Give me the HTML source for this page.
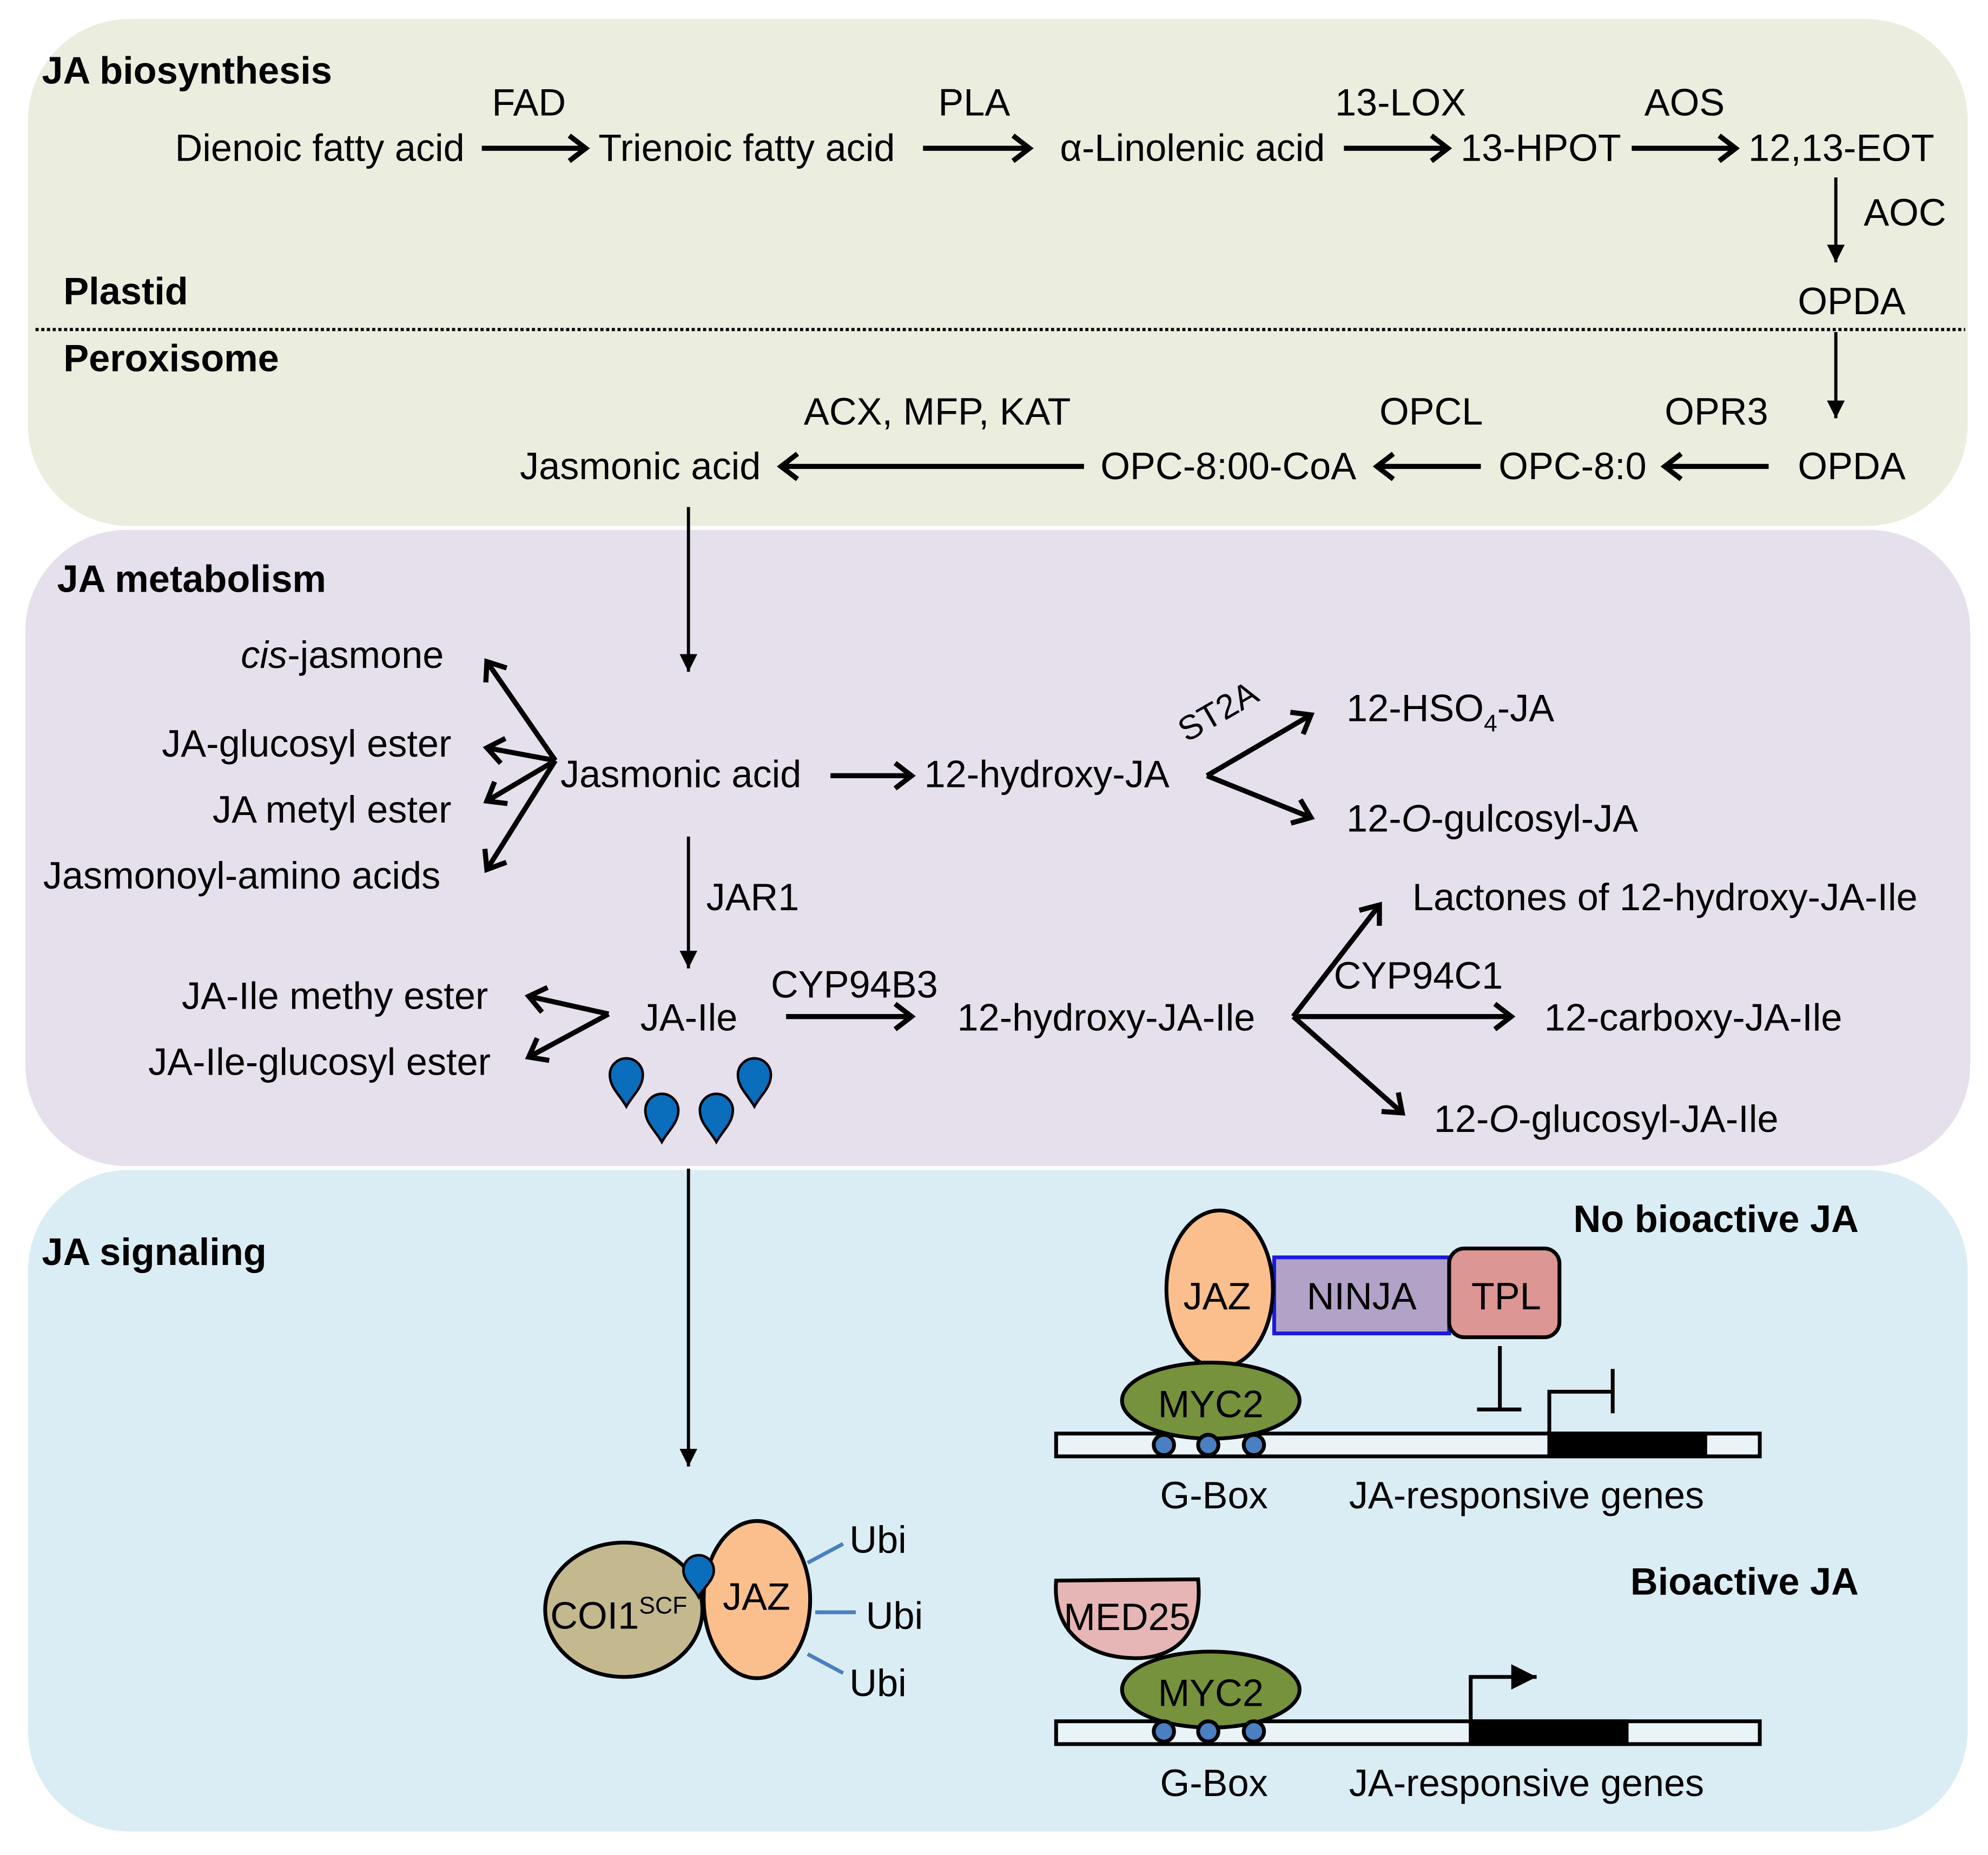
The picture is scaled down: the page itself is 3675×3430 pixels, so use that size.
<!DOCTYPE html>
<html><head><meta charset="utf-8"><style>html,body{margin:0;padding:0;background:#fff}svg{display:block}text{font-family:"Liberation Sans",Arial,sans-serif;fill:#000}</style></head><body>
<svg width="3675" height="3430" viewBox="0 0 1568 1463.5" xmlns="http://www.w3.org/2000/svg">
<defs>
<marker id="v" markerUnits="userSpaceOnUse" markerWidth="30" markerHeight="30" refX="17" refY="12" orient="auto"><path d="M4,2 L17,12 L4,22" fill="none" stroke="#000" stroke-width="4"/></marker>
<marker id="t" markerUnits="userSpaceOnUse" markerWidth="20" markerHeight="24" refX="14" refY="7" orient="auto"><path d="M0,0 L14,7 L0,14 Z" fill="#000"/></marker>
<marker id="ta" markerUnits="userSpaceOnUse" markerWidth="30" markerHeight="30" refX="20" refY="10" orient="auto"><path d="M0,0 L20,10 L0,20 Z" fill="#000"/></marker>
</defs>
<rect x="22" y="15" width="1530" height="400" rx="80" fill="#ebeedf"/>
<rect x="20" y="418" width="1534" height="502" rx="80" fill="#e6e0ec"/>
<rect x="22" y="923" width="1530" height="522" rx="80" fill="#dbedf4"/>
<g font-size="30">
<text x="33" y="66" font-weight="bold" font-size="30">JA biosynthesis</text>
<text x="388" y="91">FAD</text><text x="740" y="91">PLA</text><text x="1053" y="91">13-LOX</text><text x="1297" y="91">AOS</text>
<text x="138" y="127">Dienoic fatty acid</text>
<text x="472" y="127">Trienoic fatty acid</text>
<text x="836" y="127">α-Linolenic acid</text>
<text x="1152" y="127">13-HPOT</text>
<text x="1379" y="127">12,13-EOT</text>
<text x="1470" y="178">AOC</text>
<text x="50" y="240" font-weight="bold">Plastid</text>
<text x="1418" y="248">OPDA</text>
<text x="50" y="293" font-weight="bold">Peroxisome</text>
<text x="634" y="335">ACX, MFP, KAT</text><text x="1088" y="335">OPCL</text><text x="1313" y="335">OPR3</text>
<text x="410" y="378">Jasmonic acid</text>
<text x="868" y="378">OPC-8:00-CoA</text>
<text x="1182" y="378">OPC-8:0</text>
<text x="1418" y="378">OPDA</text>
<text x="45" y="467" font-weight="bold">JA metabolism</text>
<text x="350" y="527" text-anchor="end"><tspan font-style="italic">cis</tspan>-jasmone</text>
<text x="356" y="597" text-anchor="end">JA-glucosyl ester</text>
<text x="356" y="649" text-anchor="end">JA metyl ester</text>
<text x="34" y="701">Jasmonoyl-amino acids</text>
<text x="442" y="621">Jasmonic acid</text>
<text x="729" y="621">12-hydroxy-JA</text>
<text x="0" y="0" font-size="27" transform="translate(936,586) rotate(-30)">ST2A</text>
<text x="1062" y="569">12-HSO<tspan font-size="19" dy="8">4</tspan><tspan dy="-8">-JA</tspan></text>
<text x="1062" y="656">12-<tspan font-style="italic">O</tspan>-gulcosyl-JA</text>
<text x="557" y="718">JAR1</text>
<text x="385" y="796" text-anchor="end">JA-Ile methy ester</text>
<text x="387" y="848" text-anchor="end">JA-Ile-glucosyl ester</text>
<text x="505" y="813">JA-Ile</text>
<text x="608" y="787">CYP94B3</text>
<text x="755" y="813">12-hydroxy-JA-Ile</text>
<text x="1052" y="780">CYP94C1</text>
<text x="1114" y="718">Lactones of 12-hydroxy-JA-Ile</text>
<text x="1218" y="813">12-carboxy-JA-Ile</text>
<text x="1131" y="893">12-<tspan font-style="italic">O</tspan>-glucosyl-JA-Ile</text>
<text x="33" y="998" font-weight="bold">JA signaling</text>
<text x="1466" y="972" font-weight="bold" text-anchor="end">No bioactive JA</text>
<text x="1466" y="1258" font-weight="bold" text-anchor="end">Bioactive JA</text>
</g>
<g stroke="#000" fill="none" stroke-width="4">
<line x1="380" y1="117" x2="462" y2="117" marker-end="url(#v)"/>
<line x1="728" y1="117" x2="812" y2="117" marker-end="url(#v)"/>
<line x1="1060" y1="117" x2="1142" y2="117" marker-end="url(#v)"/>
<line x1="1287" y1="117" x2="1369" y2="117" marker-end="url(#v)"/>
<line x1="855" y1="368" x2="616" y2="368" marker-end="url(#v)"/>
<line x1="1168" y1="368" x2="1086" y2="368" marker-end="url(#v)"/>
<line x1="1395" y1="368" x2="1313" y2="368" marker-end="url(#v)"/>
<line x1="655" y1="612" x2="719" y2="612" marker-end="url(#v)"/>
<line x1="620" y1="802" x2="719" y2="802" marker-end="url(#v)"/>
<line x1="438" y1="600" x2="384" y2="522" marker-end="url(#v)"/>
<line x1="438" y1="600" x2="384" y2="590" marker-end="url(#v)"/>
<line x1="438" y1="600" x2="384" y2="632" marker-end="url(#v)"/>
<line x1="438" y1="600" x2="384" y2="686" marker-end="url(#v)"/>
<line x1="480" y1="800" x2="417" y2="786" marker-end="url(#v)"/>
<line x1="480" y1="800" x2="417" y2="834" marker-end="url(#v)"/>
<line x1="952" y1="612" x2="1034" y2="564" marker-end="url(#v)"/>
<line x1="952" y1="612" x2="1034" y2="645" marker-end="url(#v)"/>
<line x1="1020" y1="802" x2="1088" y2="714" marker-end="url(#v)"/>
<line x1="1020" y1="802" x2="1192" y2="802" marker-end="url(#v)"/>
<line x1="1020" y1="802" x2="1106" y2="878" marker-end="url(#v)"/>
</g>
<g stroke="#000" stroke-width="2.5">
<line x1="1448" y1="140" x2="1448" y2="207" marker-end="url(#t)"/>
<line x1="1448" y1="262" x2="1448" y2="330" marker-end="url(#t)"/>
<line x1="543" y1="400" x2="543" y2="530" marker-end="url(#t)"/>
<line x1="543" y1="660" x2="543" y2="764" marker-end="url(#t)"/>
<line x1="543" y1="922" x2="543" y2="1157" marker-end="url(#t)"/>
</g>
<line x1="28" y1="260" x2="1550" y2="260" stroke="#000" stroke-width="2.5" stroke-dasharray="2.5,2"/>
<g fill="#0a6ebd" stroke="#000" stroke-width="2">
<path transform="translate(494,853)" d="M0,20 C-5,11 -13,5 -13,-5 A13,13 0 0 1 13,-5 C13,5 5,11 0,20 Z"/>
<path transform="translate(522,881)" d="M0,20 C-5,11 -13,5 -13,-5 A13,13 0 0 1 13,-5 C13,5 5,11 0,20 Z"/>
<path transform="translate(565,881)" d="M0,20 C-5,11 -13,5 -13,-5 A13,13 0 0 1 13,-5 C13,5 5,11 0,20 Z"/>
<path transform="translate(595,853)" d="M0,20 C-5,11 -13,5 -13,-5 A13,13 0 0 1 13,-5 C13,5 5,11 0,20 Z"/>
</g>
<g stroke="#000" stroke-width="3">
<rect x="1005" y="992" width="138" height="60" fill="#b3a2c8" stroke="#1a1adb"/>
<rect x="1143" y="985" width="87" height="70" rx="12" fill="#dc9694"/>
<ellipse cx="962" cy="1017" rx="42" ry="62" fill="#fbbf8d"/>
<rect x="833" y="1131" width="555" height="18" fill="#eaf4f8"/>
<rect x="1222" y="1131" width="123" height="18" fill="#000"/>
<ellipse cx="955" cy="1105" rx="70" ry="30" fill="#76923c"/>
<circle cx="918" cy="1140" r="8" fill="#4a7fc1"/><circle cx="953" cy="1140" r="8" fill="#4a7fc1"/><circle cx="989" cy="1140" r="8" fill="#4a7fc1"/>
<path d="M1183,1062 V1112 M1165,1112 H1200 M1222,1131 V1098 H1272 M1272,1080 V1115" fill="none"/>
</g>
<g font-size="30">
<text x="960" y="1033" text-anchor="middle">JAZ</text>
<text x="1074" y="1033" text-anchor="middle">NINJA</text>
<text x="1188" y="1033" text-anchor="middle">TPL</text>
<text x="955" y="1118" text-anchor="middle">MYC2</text>
<text x="915" y="1190">G-Box</text><text x="1064" y="1190">JA-responsive genes</text>
</g>
<g stroke="#000" stroke-width="3">
<path d="M833,1247 L945,1246 C950,1300 915,1310 890,1308 C855,1306 830,1285 833,1247 Z" fill="#e6b6b6"/>
<rect x="833" y="1358" width="555" height="18" fill="#eaf4f8"/>
<rect x="1160" y="1358" width="123" height="18" fill="#000"/>
<ellipse cx="955" cy="1333" rx="70" ry="30" fill="#76923c"/>
<circle cx="918" cy="1366" r="8" fill="#4a7fc1"/><circle cx="953" cy="1366" r="8" fill="#4a7fc1"/><circle cx="989" cy="1366" r="8" fill="#4a7fc1"/>
<path d="M1160,1358 V1323 H1212" fill="none" marker-end="url(#ta)"/>
</g>
<g font-size="30">
<text x="889" y="1286" text-anchor="middle">MED25</text>
<text x="955" y="1346" text-anchor="middle">MYC2</text>
<text x="915" y="1417">G-Box</text><text x="1064" y="1417">JA-responsive genes</text>
</g>
<g stroke-width="3">
<path d="M637,1233 L665,1218 M643,1272 H675 M637,1305 L665,1320" stroke="#4a7fc1"/>
<ellipse cx="492" cy="1270" rx="62" ry="53" fill="#c4b98e" stroke="#000"/>
<ellipse cx="597" cy="1262" rx="42" ry="62" fill="#fbbf8d" stroke="#000"/>
<path transform="translate(551,1243)" d="M0,17 C-4,9 -12,4 -12,-4 A12,12 0 0 1 12,-4 C12,4 4,9 0,17 Z" fill="#0a6ebd" stroke="#000" stroke-width="2"/>
</g>
<g font-size="30">
<text x="434" y="1285">COI1<tspan font-size="19" dy="-12">SCF</tspan></text>
<text x="570" y="1270">JAZ</text>
<text x="670" y="1225">Ubi</text><text x="683" y="1285">Ubi</text><text x="670" y="1338">Ubi</text>
</g>
</svg>
</body></html>
